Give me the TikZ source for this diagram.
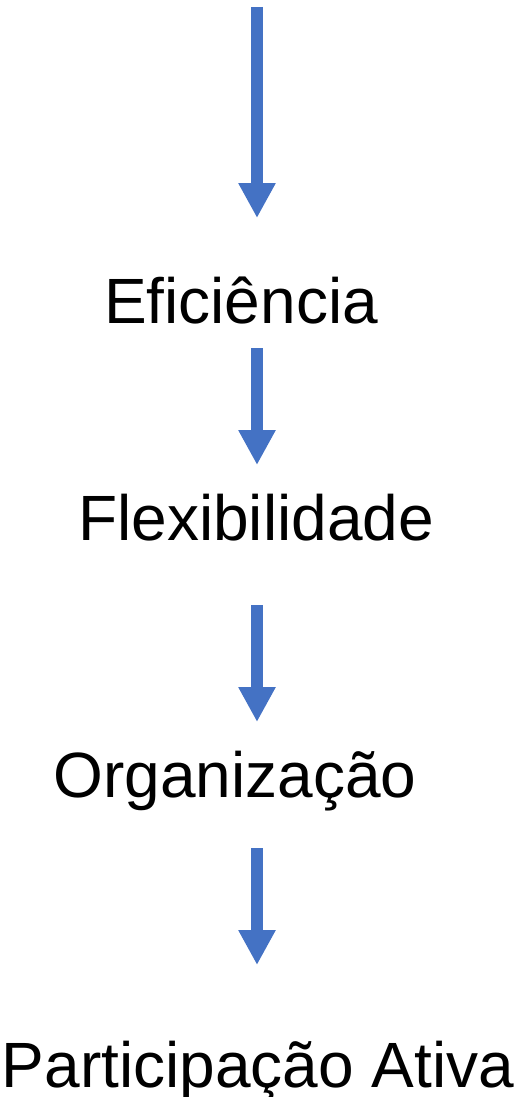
\documentclass[tikz,border=0pt]{standalone}
\usepackage{fontspec}
\setmainfont{Liberation Sans}
\usetikzlibrary{arrows.meta}
\definecolor{arrowblue}{HTML}{4472C4}
\begin{document}
\begin{tikzpicture}[x=1pt,y=-1pt,
  lbl/.style={anchor=base,inner sep=0pt,font=\fontsize{64}{70}\selectfont},
  flow/.style={draw=arrowblue,line width=12pt,-{Triangle[length=35pt,width=35pt]}}]
\useasboundingbox (0,0) rectangle (518,1097);
\coordinate (a1s) at (257,7);
\coordinate (a1e) at (257,218);
\coordinate (a2s) at (257,348);
\coordinate (a2e) at (257,465);
\coordinate (a3s) at (257,605);
\coordinate (a3e) at (257,722);
\coordinate (a4s) at (257,848);
\coordinate (a4e) at (257,965);
\node[lbl] (efi) at (241,323) {Eficiência};
\node[lbl] (flex) at (256,540) {Flexibilidade};
\node[lbl] (org) at (235,797) {Organização};
\node[lbl] (part) at (258,1087) {Participação Ativa};
\draw[flow] (a1s) -- (a1e);
\draw[flow] (a2s) -- (a2e);
\draw[flow] (a3s) -- (a3e);
\draw[flow] (a4s) -- (a4e);
\end{tikzpicture}
\end{document}
